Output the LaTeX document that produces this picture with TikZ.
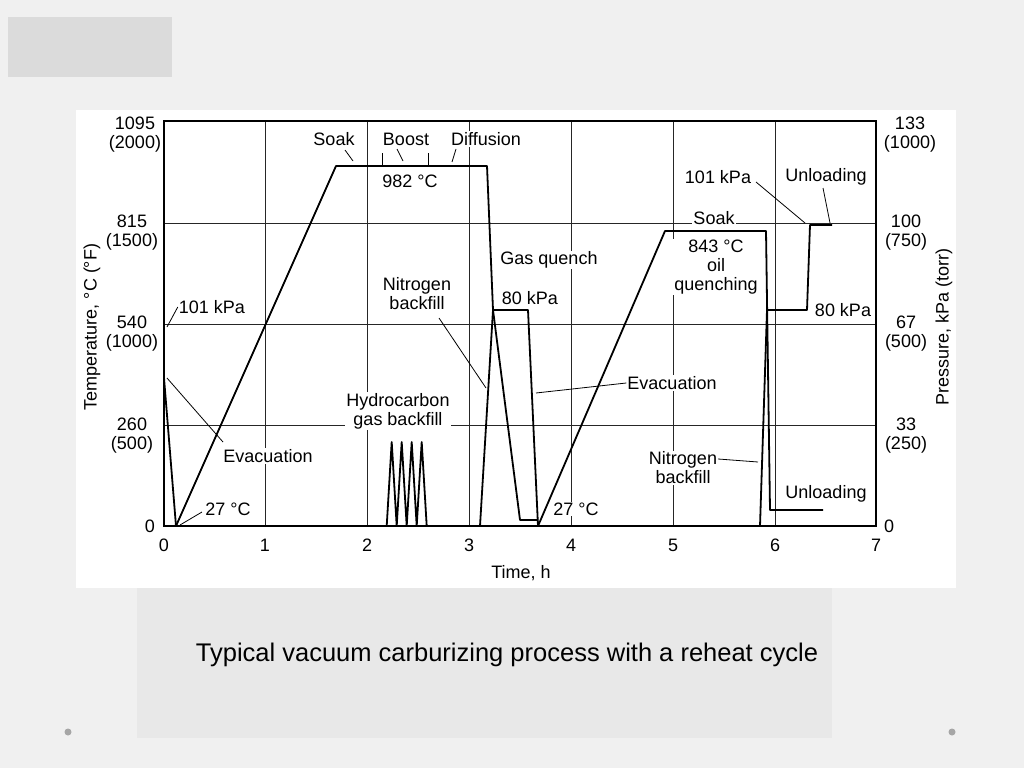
\documentclass[tikz,border=0pt]{standalone}
\usepackage{fontspec}
\setmainfont{Liberation Sans}
\begin{document}
\begin{tikzpicture}[x=1pt,y=-1pt,
  lab/.style={font=\fontsize{18}{19}\selectfont,inner sep=1pt,fill=white,align=center},
  ax/.style={font=\fontsize{18}{19}\selectfont,inner sep=1pt,align=center},
  grid/.style={line width=1pt,black!85},
  curve/.style={line width=1.8pt,line join=round},
  leader/.style={line width=0.8pt}]
\useasboundingbox (0,0) rectangle (1024,768);
\fill[gray!12] (0,0) rectangle (1024,768);
\fill[gray!28] (8,17) rectangle (172,77);
\fill[white] (76,110) rectangle (956,588);
\fill[gray!18] (137,588) rectangle (832,738);
\node[font=\fontsize{25.5}{28}\selectfont] (cap) at (507,655) {Typical vacuum carburizing process with a reheat cycle};
\fill[gray!70] (68,732) circle (3.5);
\fill[gray!70] (952,732) circle (3.5);
% grid
\foreach \x in {265,367,469,571,673,775} \draw[grid] (\x,121) -- (\x,526);
\foreach \y in {223,324,425} \draw[grid] (164,\y) -- (876,\y);
\draw[line width=1.6pt] (164,121) rectangle (876,526);
% labels with white background
\node[lab] (soak1) at (334,139) {Soak};
\node[lab] (boost) at (406,139) {Boost};
\node[lab] (diff) at (486,139) {Diffusion};
\node[lab] (t982) at (410,181) {982 °C};
\node[lab] (n2a) at (417,294) {Nitrogen\\backfill};
\node[lab] (gq) at (549,260) {Gas quench};
\node[lab] (k80a) at (530,298) {80 kPa};
\node[lab] (hc) at (398,411) {Hydrocarbon\\gas backfill};
\node[lab] (evm) at (672,383) {Evacuation};
\node[lab] (t27b) at (576,509) {27 °C};
\node[lab] (soak2) at (714,218) {Soak};
\node[lab] (t843) at (716,267) {843 °C\\oil\\quenching};
\node[lab] (k101b) at (718,177) {101 kPa};
\node[lab] (unl1) at (826,177) {Unloading};
\node[lab] (k80b) at (843,310) {80 kPa};
\node[lab] (n2b) at (683,468) {Nitrogen\\backfill};
\node[lab] (unl2) at (826,494) {Unloading};
\node[lab] (evl) at (268,456) {Evacuation};
\node[lab] (t27a) at (228,509) {27 °C};
\node[lab] (k101a) at (212,307) {101 kPa};
% curves
\draw[curve] (176,526) -- (336,166) -- (487,166) -- (493,310) -- (520,520) -- (538,520);
\draw[curve] (480,526) -- (493,310) -- (528,310) -- (538,526) -- (665,231) -- (766,231) -- (770,510) -- (823,510);
\draw[curve] (760,526) -- (767,310) -- (807,310) -- (810,225) -- (832,225);
\draw[curve] (164,378) -- (176,526);
\draw[curve] (386.7,526) -- (391.7,442) -- (396.7,526) -- (401.7,442) -- (406.7,526) -- (411.7,442) -- (416.7,526) -- (421.7,442) -- (426.7,526);
% leaders
\draw[leader] (345,150) -- (353,161);
\draw[leader] (382,153) -- (382,165);
\draw[leader] (428,153) -- (428,165);
\draw[leader] (397,149) -- (403,161);
\draw[leader] (456,149) -- (452,162);
\draw[leader] (439,318) -- (486,388);
\draw[leader] (evm.west) -- (536,393);
\draw[leader] (756,182) -- (805,223);
\draw[leader] (823,188) -- (830,223);
\draw[leader] (n2b.east |- 0,459) -- (758,462);
\draw[leader] (167,378) -- (223,442);
\draw[leader] (180,525) -- (202,512);
\draw[leader] (167,327) -- (k101a.west);
% axes labels
\node[ax] (l1095) at (135,135) {1095\\(2000)};
\node[ax] (l815) at (132,233) {815\\(1500)};
\node[ax] (l540) at (132,334) {540\\(1000)};
\node[ax] (l260) at (132,436) {260\\(500)};
\node[ax] (l0) at (150,526) {0};
\node[ax] (r133) at (910,135) {133\\(1000)};
\node[ax] (r100) at (906,233) {100\\(750)};
\node[ax] (r67) at (906,334) {67\\(500)};
\node[ax] (r33) at (906,436) {33\\(250)};
\node[ax] (r0) at (889,526) {0};
\foreach \i/\x in {0/164,1/265,2/367,3/469,4/571,5/673,6/775,7/876} \node[ax] (tx\i) at (\x,545) {\i};
\node[ax] (xlab) at (521,573) {Time, h};
\node[ax,rotate=90] (ylab) at (92,327) {Temperature, °C (°F)};
\node[ax,rotate=90] (y2lab) at (944,327) {Pressure, kPa (torr)};
\end{tikzpicture}
\end{document}
